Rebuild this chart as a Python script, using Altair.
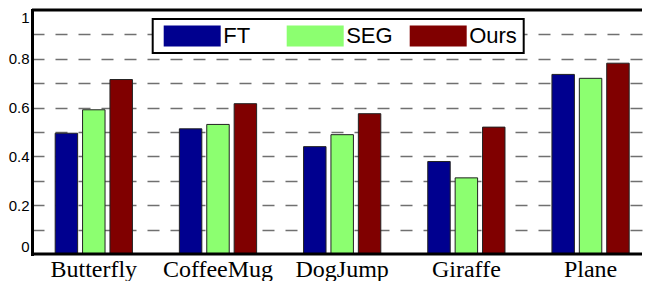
import altair as alt
import pandas as pd

categories = ["Butterfly", "CoffeeMug", "DogJump", "Giraffe", "Plane"]
methods = ["FT", "SEG", "Ours"]
ft_values = [0.495, 0.513, 0.440, 0.379, 0.736]
seg_values = [0.591, 0.531, 0.489, 0.312, 0.720]
ours_values = [0.715, 0.616, 0.575, 0.520, 0.782]
colors = ["#00008F", "#8CFF70", "#800000"]
y_grid_values = [0, 0.1, 0.2, 0.3, 0.4, 0.5, 0.6, 0.7, 0.8, 0.9, 1.0]
frame_values = [0.0, 1.0]

rows = []
for m, vals in zip(methods, [ft_values, seg_values, ours_values]):
    for c, v in zip(categories, vals):
        rows.append({"category": c, "method": m, "value": v})
df = pd.DataFrame(rows)
frame_df = pd.DataFrame({"v": frame_values})

rect_path = "M-2.714,-1H2.714V1H-2.714Z"

y_scale = alt.Scale(domain=[0, 1], nice=False, zero=True)
y_axis = alt.Axis(
    title=None, values=y_grid_values, format="~g",
    labelExpr="round(datum.value*10) % 2 == 0 ? datum.label : ''",
    labelFlush=True, labelFont="Liberation Sans", labelFontSize=15,
    labelColor="black", labelPadding=3, ticks=False, tickSize=0,
    domainColor="black", domainWidth=3, domainCap="square",
    grid=True, gridColor="#707070", gridDash=[12, 11], gridWidth=1.5,
    gridOpacity={"condition": {"test": "datum.value == 0 || datum.value == 1", "value": 0}, "value": 1},
)

bars = alt.Chart(df).mark_bar(stroke="#222222", strokeWidth=1).encode(
    x=alt.X(
        "category:N",
        sort=categories,
        scale=alt.Scale(paddingInner=0.378, paddingOuter=0.1449, align=0.644),
        axis=alt.Axis(
            title=None, labelAngle=0, labelFont="Liberation Serif", labelFontSize=24,
            labelFontWeight="normal",
            labelColor="black", labelBaseline="alphabetic", labelPadding=22,
            ticks=False, tickSize=0, domain=False, zindex=1,
        ),
    ),
    xOffset=alt.XOffset("method:N", sort=methods,
                        scale=alt.Scale(paddingInner=0.18, paddingOuter=0)),
    y=alt.Y("value:Q", scale=y_scale, axis=y_axis),
    color=alt.Color(
        "method:N",
        sort=methods,
        scale=alt.Scale(domain=methods, range=colors),
        legend=alt.Legend(
            title=None, orient="none", legendX=120.7, legendY=9,
            direction="horizontal", columns=3, gridAlign="all",
            symbolType=rect_path, symbolSize=441, symbolStrokeWidth=0,
            symbolOpacity=1, symbolOffset=22.5, labelOffset=20,
            labelFont="Liberation Sans", labelFontSize=22, labelColor="black",
            columnPadding=10, padding=6, strokeColor="black", fillColor="white",
            cornerRadius=0,
        ),
    ),
)

frame_rules = alt.Chart(frame_df).mark_rule(color="black", strokeWidth=3, strokeCap="butt").encode(
    y=alt.Y("v:Q", scale=y_scale, axis=y_axis)
)

chart = alt.layer(bars, frame_rules).properties(
    width=636, height=273, padding=0,
    autosize=alt.AutoSizeParams(type="fit", contains="padding"),
).configure_view(stroke=None).configure_legend(strokeWidth=2)

chart.save("out.html", embed_options={"renderer": "svg", "actions": False})
